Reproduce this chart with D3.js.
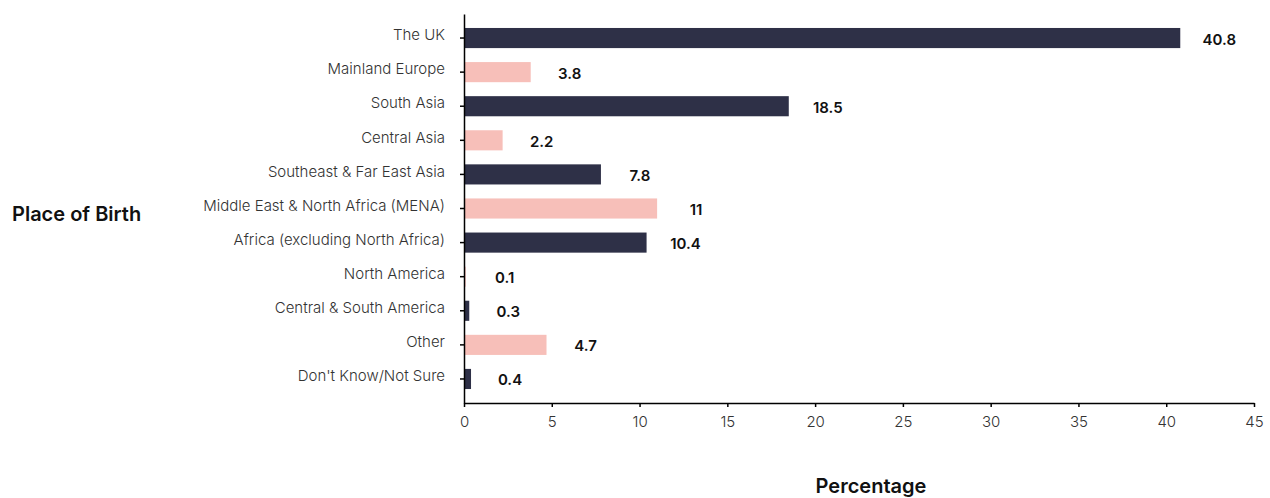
<!DOCTYPE html>
<html><head><meta charset="utf-8">
<script src="https://cdn.jsdelivr.net/npm/d3@7"></script>
<style>
body{margin:0;background:#fff;}
svg{display:block;font-family:Inter, "Noto Sans", sans-serif;}
</style></head>
<body><svg id="c" width="1270" height="498"></svg>
<script>
const categories = ["The UK","Mainland Europe","South Asia","Central Asia","Southeast & Far East Asia","Middle East & North Africa (MENA)","Africa (excluding North Africa)","North America","Central & South America","Other","Don't Know/Not Sure"];
const values = [40.8,3.8,18.5,2.2,7.8,11,10.4,0.1,0.3,4.7,0.4];
const colorKeys = ["dark","pink","dark","pink","dark","pink","dark","pink","dark","pink","dark"];
const xTicks = [0,5,10,15,20,25,30,35,40,45];
const palette = {dark:"#2e3047", pink:"#f7bfb9"};

const svg = d3.select("#c");
const x = d3.scaleLinear().domain([0,45]).range([464,1254]);
const y = d3.scaleBand().domain(categories).range([14,403]).paddingInner(0.41).paddingOuter(0.41);

svg.append("g").selectAll("rect").data(categories).join("rect")
  .attr("x", x(0)).attr("y", d=>y(d))
  .attr("width", (d,i)=>x(values[i])-x(0)).attr("height", y.bandwidth())
  .attr("fill", (d,i)=>palette[colorKeys[i]]);

svg.append("g").selectAll("text").data(categories).join("text")
  .attr("x", (d,i)=>x(values[i])+39).attr("y", d=>y(d)+y.bandwidth()/2+1)
  .attr("text-anchor","middle").attr("dominant-baseline","central")
  .attr("font-size",15).attr("font-weight",600).attr("fill","#111")
  .text((d,i)=>values[i]);

const xa = svg.append("g").attr("transform","translate(0,403)")
  .call(d3.axisBottom(x).tickValues(xTicks).tickSize(4).tickSizeOuter(0).tickPadding(9));
xa.select(".domain").attr("stroke","#000").attr("stroke-width",1.5);
xa.selectAll(".tick line").attr("stroke","#000").attr("stroke-width",1.5);
xa.selectAll(".tick text").attr("font-size",15).attr("font-weight",300).attr("fill","#333").attr("font-family","Inter, sans-serif");

const ya = svg.append("g").attr("transform","translate(464,0)")
  .call(d3.axisLeft(y).tickSize(4).tickSizeOuter(0).tickPadding(15));
ya.select(".domain").attr("stroke","#000").attr("stroke-width",1.5);
ya.selectAll(".tick line").attr("stroke","#000").attr("stroke-width",1.5);
ya.selectAll(".tick text").attr("font-size",15).attr("font-weight",300).attr("fill","#333").attr("font-family","Inter, sans-serif").attr("dy","0.15em");

svg.append("text").attr("x",12).attr("y",214).attr("dominant-baseline","central")
  .attr("font-size",20).attr("font-weight",600).attr("fill","#111").text("Place of Birth");
svg.append("text").attr("x",871).attr("y",486).attr("text-anchor","middle").attr("dominant-baseline","central")
  .attr("font-size",20).attr("font-weight",600).attr("fill","#111").text("Percentage");
</script></body></html>
